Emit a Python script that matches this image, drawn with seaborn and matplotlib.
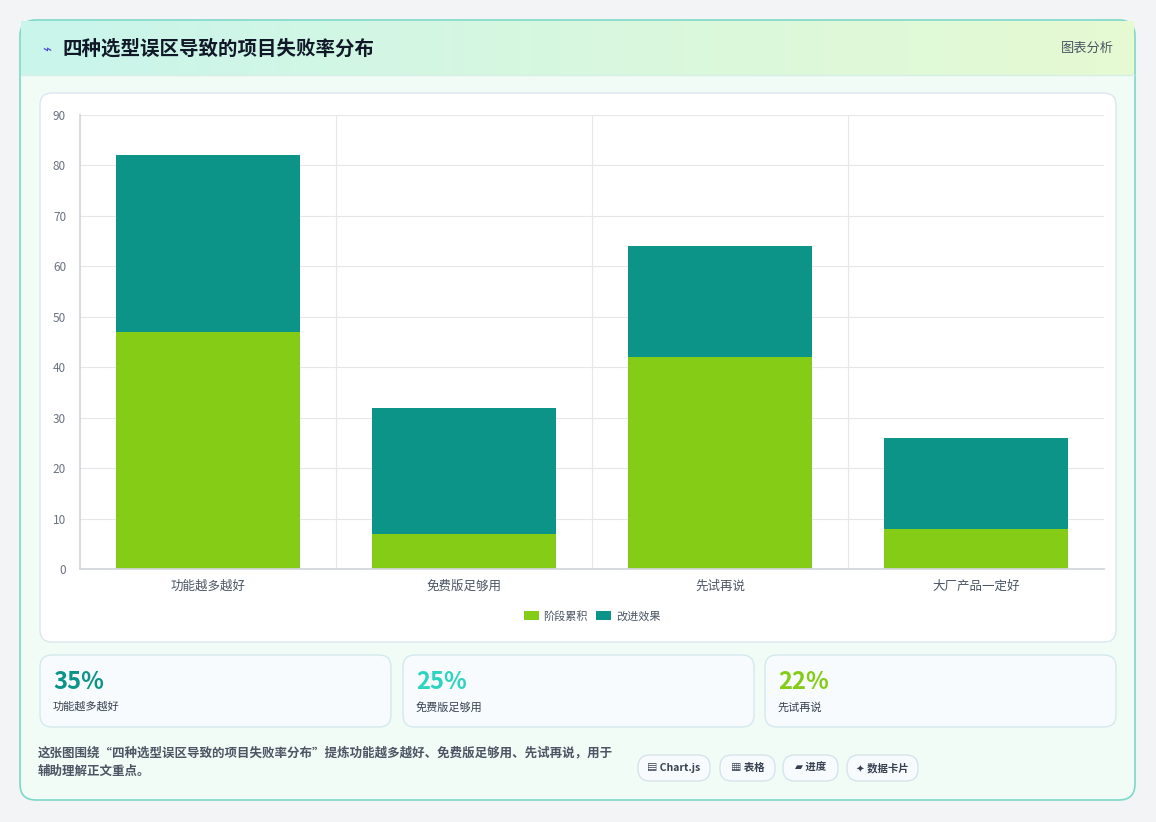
import matplotlib
matplotlib.use("Agg")
import matplotlib.pyplot as plt
import seaborn as sns
import pandas as pd
import numpy as np
from matplotlib.patches import FancyBboxPatch
from matplotlib.colors import LinearSegmentedColormap

categories = ["功能越多越好", "免费版足够用", "先试再说", "大厂产品一定好"]
stage_accum = [47, 7, 42, 8]
improve = [35, 25, 22, 18]
series_names = ["阶段累积", "改进效果"]
yticks = [0, 10, 20, 30, 40, 50, 60, 70, 80, 90]
card_values = ["35%", "25%", "22%"]
card_labels = ["功能越多越好", "免费版足够用", "先试再说"]
card_colors = ["#0d9488", "#2dd4bf", "#84cc16"]
tags = ["▤ Chart.js", "▦ 表格", "▰ 进度", "✦ 数据卡片"]
title = "四种选型误区导致的项目失败率分布"
footer = "这张图围绕“四种选型误区导致的项目失败率分布”提炼功能越多越好、免费版足够用、先试再说，用于\n辅助理解正文重点。"

sns.set_theme(style="white")
plt.rcParams['font.family'] = ['Noto Sans CJK SC', 'DejaVu Sans']

W, H = 1156, 822
fig = plt.figure(figsize=(W/100, H/100), dpi=100)
fig.patch.set_facecolor("#f3f4f6")
bg = fig.add_axes([0, 0, 1, 1]); bg.set_xlim(0, W); bg.set_ylim(H, 0); bg.axis("off")

def rbox(x, y, w, h, fc, ec, r=12, lw=1, z=1):
    bg.add_patch(FancyBboxPatch((x, y), w, h, boxstyle=f"round,pad=0,rounding_size={r}",
                                fc=fc, ec=ec, lw=lw, zorder=z))

rbox(20, 20, 1115, 780, "#f2fcf6", "#7dd8c8", r=16, lw=1.2)
grad = np.linspace(0, 1, 256).reshape(1, -1)
cmap = LinearSegmentedColormap.from_list("g", ["#c9f5ec", "#e6fad2"])
bg.imshow(grad, extent=(21, 1134, 75, 21), cmap=cmap, aspect="auto", zorder=1.5)
bg.set_xlim(0, W); bg.set_ylim(H, 0)
bg.plot([21, 1134], [75, 75], color="#d5efe6", lw=1, zorder=2)
bg.text(42, 50, "⌁", color="#4f46e5", fontsize=11, va="center", zorder=3, family=['DejaVu Sans'])
bg.text(62, 49, title, fontsize=14, fontweight="bold", color="#111827", va="center", zorder=3)
bg.text(1114, 48, "图表分析", fontsize=9.5, color="#4b5563", ha="right", va="center", zorder=3, fontweight="medium")

rbox(40, 93, 1076, 549, "white", "#dbe7ee", r=12)

xs = [40, 403, 765]
for i in range(3):
    rbox(xs[i], 655, 351, 72, "#f8fbfd", "#d3e9ee", r=12)
    bg.text(xs[i]+13, 682, card_values[i], fontsize=17, fontweight="bold", color=card_colors[i], va="center", zorder=3)
    bg.text(xs[i]+13, 707, card_labels[i], fontsize=8, color="#374151", va="center", zorder=3, fontweight="medium")

bg.text(38, 762, footer, fontsize=9, color="#4b5563", va="center", linespacing=1.6, zorder=3, fontweight="bold")
tx = [638, 720, 783, 847]
tw = [72, 55, 55, 71]
for i, t in enumerate(tags):
    rbox(tx[i], 755, tw[i], 26, "#f8fbfd", "#d6e4ea", r=12)
    bg.text(tx[i]+tw[i]/2, 768, t, fontsize=7.5, fontweight="bold", color="#374151", ha="center", va="center", zorder=3)

ax = fig.add_axes([80/W, 1-569/H, 1024/W, 454/H])
df = pd.DataFrame({"cat": categories, "a": stage_accum, "total": np.array(stage_accum)+np.array(improve)})
sns.barplot(data=df, x="cat", y="total", color="#0d9488", width=0.715, ax=ax, label=series_names[1], saturation=1, linewidth=0)
sns.barplot(data=df, x="cat", y="a", color="#84cc16", width=0.715, ax=ax, label=series_names[0], saturation=1, linewidth=0)
ax.set_ylim(0, 90); ax.set_xlim(-0.5, 3.5)
ax.set_yticks(yticks)
ax.set_xlabel(""); ax.set_ylabel("")
ax.grid(axis="y", color="#e5e7eb", lw=0.8)
ax.set_xticks([0.5, 1.5, 2.5], minor=True)
ax.grid(axis="x", which="minor", color="#e5e7eb", lw=0.8)
ax.set_axisbelow(True)
for s in ["top", "right"]:
    ax.spines[s].set_visible(False)
ax.spines["left"].set_color("#d1d5db"); ax.spines["bottom"].set_color("#d1d5db")
ax.tick_params(axis="y", labelsize=8.5, colors="#6b7280", length=0, pad=10)
ax.tick_params(axis="x", labelsize=9, colors="#4b5563", length=0, pad=8)
ax.tick_params(axis="x", which="minor", length=8, color="#e5e7eb")
for lab in ax.get_xticklabels():
    lab.set_fontweight("medium")
ax.set_facecolor("none")
h, l = ax.get_legend_handles_labels()
ax.legend(h[::-1], l[::-1], loc="upper center", bbox_to_anchor=(0.5, -0.07), ncol=2, frameon=False,
          fontsize=8, handlelength=1.4, handleheight=0.9, columnspacing=0.7, handletextpad=0.4,
          labelcolor="#4b5563")

fig.savefig("out.png", dpi=100, facecolor=fig.get_facecolor())
